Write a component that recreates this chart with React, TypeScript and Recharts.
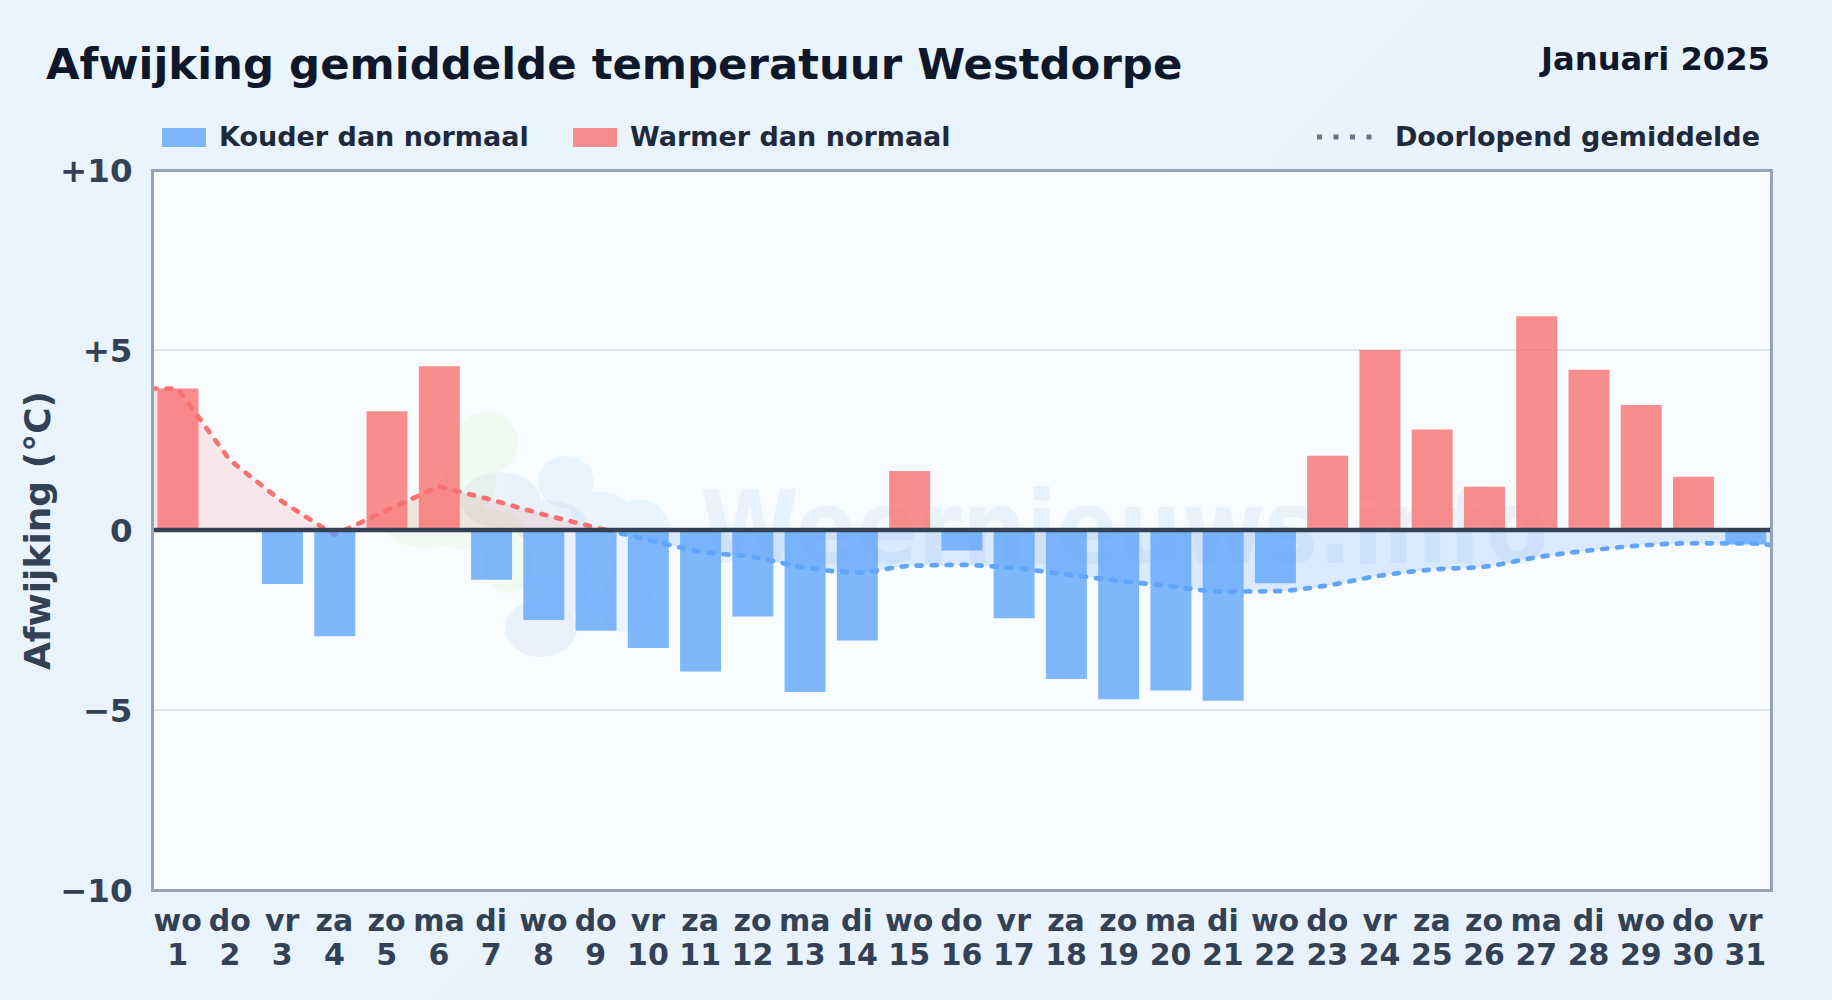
import React from 'react';
import { ComposedChart, Bar, Area, XAxis, YAxis, CartesianGrid, ReferenceLine, Legend } from 'recharts';

const weekdays = ['wo','do','vr','za','zo','ma','di','wo','do','vr','za','zo','ma','di','wo','do','vr','za','zo','ma','di','wo','do','vr','za','zo','ma','di','wo','do','vr'];
const dayNumbers = [1,2,3,4,5,6,7,8,9,10,11,12,13,14,15,16,17,18,19,20,21,22,23,24,25,26,27,28,29,30,31];
const warmValues = [3.93,null,null,null,3.3,4.55,null,null,null,null,null,null,null,null,1.64,null,null,null,null,null,null,null,2.06,5.0,2.79,1.2,5.94,4.45,3.47,1.48,null];
const coldValues = [null,-0.05,-1.5,-2.95,null,null,-1.38,-2.5,-2.8,-3.28,-3.93,-2.4,-4.5,-3.07,null,-0.57,-2.45,-4.14,-4.7,-4.46,-4.74,-1.48,null,null,null,null,null,null,null,null,-0.4];
const runningMean = [3.93,1.94,0.79,-0.14,0.55,1.21,0.84,0.43,0.07,-0.27,-0.6,-0.75,-1.04,-1.18,-1.0,-0.97,-1.06,-1.23,-1.41,-1.56,-1.71,-1.7,-1.54,-1.27,-1.1,-1.02,-0.76,-0.57,-0.43,-0.37,-0.37];
const meanStart = 3.93;
const meanEnd = -0.42;
const yTicks = [-10,-5,0,5,10];
const yLabels = ['−10','−5','0','+5','+10'];

const barRows = dayNumbers.map((d, i) => ({ day: d, warm: warmValues[i], cold: coldValues[i] }));
const warmRows: any[] = [{ pos: 0.5, warmMean: meanStart }];
const coldRows: any[] = [];
dayNumbers.forEach((d, i) => {
  if (d <= 9) warmRows.push({ pos: d, warmMean: runningMean[i] });
  if (d === 9) { warmRows.push({ pos: 9.2, warmMean: 0 }); coldRows.push({ pos: 9.2, coldMean: 0 }); }
  if (d >= 10) coldRows.push({ pos: d, coldMean: runningMean[i] });
});
coldRows.push({ pos: 31.5, coldMean: meanEnd });

const FONT = '"DejaVu Sans", sans-serif';
const W = 1832, H = 1000;
const L = 151.5, R = 1771.5, T = 170, B = 890;

function DayTick({ x, y, payload }: any) {
  const i = payload.value - 1;
  return (
    <text x={x} y={y} textAnchor="middle" fontFamily={FONT} fontWeight={700} fontSize={30} fill="#334155">
      <tspan x={x} dy={33}>{weekdays[i]}</tspan>
      <tspan x={x} dy={34}>{dayNumbers[i]}</tspan>
    </text>
  );
}

function LegendRow() {
  const text: React.CSSProperties = { position: 'absolute', top: 0, lineHeight: '40px', fontFamily: FONT, fontWeight: 700, fontSize: 27, color: '#1e293b', whiteSpace: 'nowrap' };
  const swatch: React.CSSProperties = { position: 'absolute', top: 10.5, width: 44, height: 19 };
  return (
    <div style={{ position: 'absolute', left: 0, top: 0, width: W, height: 40 }}>
      <div style={{ ...swatch, left: 162, background: '#60a5fa', opacity: 0.8 }} />
      <div style={{ ...text, left: 219 }}>Kouder dan normaal</div>
      <div style={{ ...swatch, left: 573, background: '#f87171', opacity: 0.8 }} />
      <div style={{ ...text, left: 630 }}>Warmer dan normaal</div>
      <svg style={{ position: 'absolute', left: 1316, top: 17 }} width={60} height={6}>
        <line x1={1} x2={60} y1={3} y2={3} stroke="#64748b" strokeWidth={5} strokeDasharray="5 11.5" />
      </svg>
      <div style={{ ...text, right: 72 }}>Doorlopend gemiddelde</div>
    </div>
  );
}

function Watermark() {
  return (
    <svg width={W} height={H} style={{ position: 'absolute', left: 0, top: 0 }}>
      <g opacity={0.07} fill="#a3e635">
        <ellipse cx={486} cy={443} rx={32} ry={31} />
        <ellipse cx={470} cy={480} rx={26} ry={32} />
        <ellipse cx={425} cy={522} rx={42} ry={26} />
        <ellipse cx={480} cy={530} rx={45} ry={22} />
        <ellipse cx={508} cy={565} rx={24} ry={28} />
      </g>
      <g opacity={0.08} fill="#4a86c8">
        <ellipse cx={500} cy={500} rx={40} ry={28} />
        <ellipse cx={548} cy={522} rx={36} ry={22} />
        <ellipse cx={575} cy={550} rx={16} ry={42} />
        <ellipse cx={541} cy={628} rx={36} ry={29} />
        <ellipse cx={565} cy={595} rx={22} ry={22} />
      </g>
      <g opacity={0.13} fill="#93c5fd">
        <ellipse cx={566} cy={482} rx={28} ry={26} />
        <ellipse cx={600} cy={510} rx={30} ry={18} />
        <ellipse cx={640} cy={530} rx={30} ry={30} />
        <ellipse cx={635} cy={570} rx={22} ry={40} />
        <ellipse cx={625} cy={605} rx={25} ry={28} />
      </g>
      <text x={700} y={563} fontFamily={FONT} fontWeight={700} fontSize={102} textLength={848} lengthAdjust="spacingAndGlyphs" fill="#4a86c8" opacity={0.08}>Weernieuws.info</text>
    </svg>
  );
}

export default function App() {
  return (
    <div style={{ position: 'absolute', left: 0, top: 0, width: W, height: H, overflow: 'hidden', background: 'linear-gradient(135deg,#e9f4fd,#e8f2fc)' }}>
      <div style={{ position: 'absolute', left: L, top: T, width: R - L, height: B - T, background: '#f8fcff' }} />
      <Watermark />
      <div style={{ position: 'absolute', left: 46, top: 35, fontFamily: FONT, fontWeight: 700, fontSize: 43.4, lineHeight: '58px', color: '#0f172a', whiteSpace: 'nowrap' }}>Afwijking gemiddelde temperatuur Westdorpe</div>
      <div style={{ position: 'absolute', right: 62, top: 37, fontFamily: FONT, fontWeight: 700, fontSize: 32.2, lineHeight: '44px', color: '#0f172a', whiteSpace: 'nowrap' }}>Januari 2025</div>
      <div style={{ position: 'absolute', left: 0, top: 0 }}>
        <ComposedChart width={W} height={H} data={barRows} stackOffset="sign" margin={{ top: T, right: W - R, bottom: 0, left: 0 }}>
          <Legend content={() => <LegendRow />} wrapperStyle={{ position: 'absolute', left: 0, top: 117, width: W, height: 0 }} height={0} />
          <CartesianGrid vertical={false} horizontalValues={[-5, 5]} stroke="#e0e6ed" strokeWidth={2} />
          <XAxis dataKey="day" xAxisId="days" type="category" interval={0} axisLine={false} tickLine={false} height={H - B} tick={<DayTick />} />
          <XAxis dataKey="pos" xAxisId="pos" type="number" domain={[0.5, 31.5]} hide height={0} allowDataOverflow />
          <YAxis type="number" domain={[-10, 10]} ticks={yTicks} width={L} axisLine={false} tickLine={false} interval={0}
            tickMargin={13}
            tickFormatter={(v: number) => yLabels[yTicks.indexOf(v)]}
            tick={{ fontFamily: FONT, fontWeight: 700, fontSize: 32.5, fill: '#334155' }}
            label={{ value: 'Afwijking (°C)', angle: -90, position: 'insideLeft', dx: 32, dy: 140, style: { fontFamily: FONT, fontWeight: 700, fontSize: 36, fill: '#334155' } }} />
          <Bar dataKey="warm" xAxisId="days" stackId="t" barSize={41} fill="#f87171" fillOpacity={0.8} isAnimationActive={false} />
          <Bar dataKey="cold" xAxisId="days" stackId="t" barSize={41} fill="#60a5fa" fillOpacity={0.8} isAnimationActive={false} />
          <ReferenceLine y={0} xAxisId="days" stroke="#334155" strokeWidth={4.5} />
          <Area data={warmRows} xAxisId="pos" dataKey="warmMean" type="linear" baseValue={0} stroke="#f87171" strokeWidth={4.7} strokeDasharray="5 10" strokeLinecap="round" fill="#f87171" fillOpacity={0.15} dot={false} activeDot={false} isAnimationActive={false} />
          <Area data={coldRows} xAxisId="pos" dataKey="coldMean" type="monotone" baseValue={0} stroke="#60a5fa" strokeWidth={4.7} strokeDasharray="5 10" strokeLinecap="round" fill="#60a5fa" fillOpacity={0.2} dot={false} activeDot={false} isAnimationActive={false} />
        </ComposedChart>
      </div>
      <div style={{ position: 'absolute', boxSizing: 'border-box', left: L - 0.5, top: T - 1.5, width: R - L + 2, height: B - T + 3, border: '3px solid #94a3b8', pointerEvents: 'none' }} />
    </div>
  );
}
